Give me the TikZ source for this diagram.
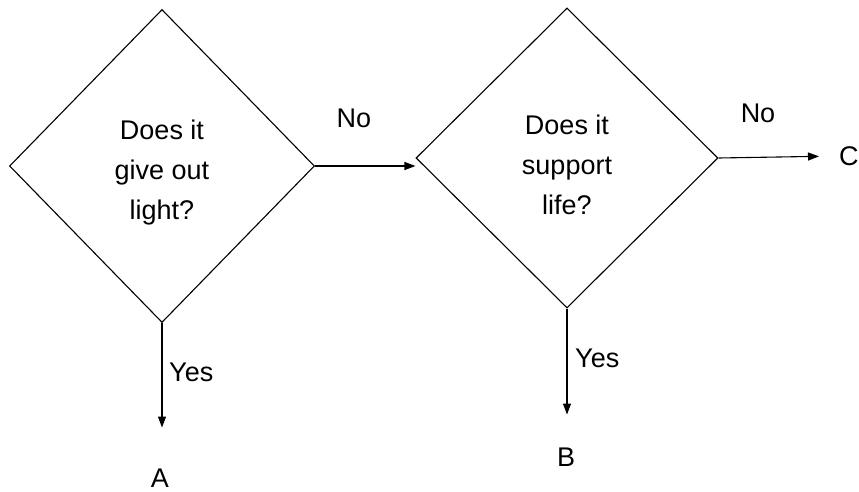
\documentclass[tikz,border=0pt]{standalone}
\usepackage{fontspec}
\setmainfont{Liberation Sans}
\usetikzlibrary{shapes.geometric,arrows.meta}
\begin{document}
\begin{tikzpicture}[x=1pt,y=-1pt,
  every node/.style={font=\fontsize{27}{40}\selectfont},
  decision/.style={diamond, draw, line width=1.1pt, inner sep=0pt},
  question/.style={inner sep=0pt, align=center, yshift=-7pt},
  flow/.style={line width=1.1pt, -{Triangle[length=11pt,width=8pt]}},
  lbl/.style={inner sep=0pt}]
\useasboundingbox (0,0) rectangle (859,492);
% decision boxes, with their questions set a little below centre
\node[decision, minimum width=305pt, minimum height=313pt,
      label={[question]center:Does it\\give out\\light?}] (q1) at (162,166) {};
\node[decision, minimum width=302pt, minimum height=300pt,
      label={[question]center:Does it\\support\\life?}] (q2) at (567,158) {};
% outcomes
\node[lbl] (A) at (160,478) {A};
\node[lbl] (B) at (566,457) {B};
\node[lbl, anchor=west] (C) at (839,156) {C};
% connectors
\draw[flow] (q1.east) -- (q1.east -| q2.west);
\draw[flow, shorten >=20pt] (q2.east) -- (C.west);
\draw[flow, shorten >=41pt] (q1.south) -- (q1.south |- A.north);
\draw[flow, shorten >=33pt] (q2.south) -- (q2.south |- B.north);
% branch labels
\node[lbl] (no1) at (354,118) {No};
\node[lbl] (no2) at (758,113) {No};
\node[lbl, anchor=west] (yes1) at (169,372) {Yes};
\node[lbl, anchor=west] (yes2) at (575,358) {Yes};
\end{tikzpicture}
\end{document}
